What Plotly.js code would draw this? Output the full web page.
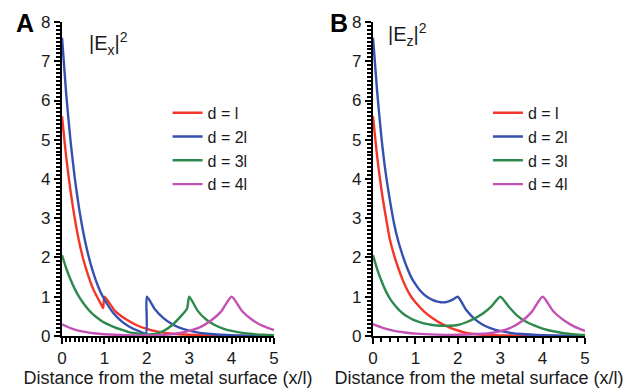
<!DOCTYPE html>
<html><head><meta charset="utf-8">
<script src="https://cdn.plot.ly/plotly-3.0.1.min.js"></script>
<style>html,body{margin:0;padding:0;background:#fff}#chart{width:642px;height:391px}</style>
</head><body><div id="chart"></div>
<script>
// Series names / legend labels
const seriesNames = ["d = l", "d = 2l", "d = 3l", "d = 4l"];
const seriesColors = ["#f4362a", "#3650b2", "#2e8a4c", "#c352b4"];
const xTickVals = [0, 1, 2, 3, 4, 5];
const yTickVals = [0, 1, 2, 3, 4, 5, 6, 7, 8];

// Panel A: |Ex|^2
const xA_d1 = [0,0.1,0.2,0.3,0.4,0.5,0.6,0.7,0.8,0.9,0.97,1.0,1.25,1.5,1.75,2.0,2.25,2.5,2.75,3.0,3.5,4.0,4.5,5.0];
const yA_d1 = [5.6,4.55,3.7,3.0,2.42,1.96,1.6,1.29,1.05,0.85,0.71,1.0,0.64,0.43,0.28,0.18,0.11,0.07,0.045,0.03,0.012,0.005,0.002,0.001];
const xA_d2 = [0,0.1,0.2,0.3,0.4,0.5,0.6,0.7,0.8,0.9,1.0,1.2,1.4,1.6,1.8,1.98,2.0,2.2,2.4,2.6,2.8,3.0,3.25,3.5,4.0,4.5,5.0];
const yA_d2 = [7.6,6.15,4.98,4.03,3.27,2.65,2.15,1.74,1.41,1.14,0.93,0.6,0.38,0.23,0.13,0.07,1.0,0.67,0.45,0.3,0.2,0.135,0.08,0.05,0.018,0.006,0.002];
const xA_d3 = [0,0.1,0.2,0.3,0.4,0.5,0.6,0.7,0.8,0.9,1.0,1.2,1.4,1.6,1.8,2.0,2.2,2.4,2.6,2.8,2.95,3.0,3.2,3.4,3.6,3.8,4.0,4.25,4.5,4.75,5.0];
const yA_d3 = [2.06,1.72,1.44,1.2,1.0,0.84,0.7,0.58,0.49,0.41,0.34,0.24,0.16,0.09,0.06,0.04,0.05,0.13,0.28,0.5,0.7,1.0,0.64,0.42,0.28,0.19,0.13,0.08,0.05,0.03,0.02];
const xA_d4 = [0,0.25,0.5,0.75,1.0,1.5,2.0,2.5,2.75,3.0,3.25,3.5,3.75,4.0,4.25,4.5,4.75,5.0];
const yA_d4 = [0.3,0.18,0.11,0.07,0.045,0.02,0.015,0.035,0.07,0.13,0.22,0.38,0.62,1.0,0.63,0.4,0.25,0.15];

// Panel B: |Ez|^2
const xB_d1 = [0,0.1,0.2,0.3,0.4,0.5,0.6,0.7,0.8,0.9,1.0,1.2,1.4,1.6,1.8,2.0,2.2,2.4,2.6,3.0,3.5,4.0,4.5,5.0];
const yB_d1 = [5.6,4.55,3.72,3.05,2.45,2.05,1.72,1.43,1.19,1.0,0.86,0.63,0.46,0.32,0.22,0.14,0.08,0.05,0.03,0.015,0.008,0.005,0.003,0.002];
const xB_d2 = [0,0.1,0.2,0.3,0.4,0.5,0.6,0.7,0.8,0.9,1.0,1.1,1.2,1.3,1.4,1.5,1.6,1.7,1.8,1.9,2.0,2.2,2.4,2.6,2.8,3.0,3.25,3.5,4.0,4.5,5.0];
const yB_d2 = [7.6,6.2,5.05,4.15,3.45,2.85,2.4,2.05,1.75,1.5,1.32,1.17,1.06,0.98,0.92,0.88,0.86,0.86,0.89,0.94,1.0,0.66,0.43,0.28,0.19,0.13,0.08,0.05,0.02,0.008,0.003];
const xB_d3 = [0,0.1,0.2,0.3,0.4,0.5,0.6,0.7,0.8,0.9,1.0,1.2,1.4,1.6,1.8,2.0,2.2,2.4,2.6,2.8,3.0,3.2,3.4,3.6,3.8,4.0,4.25,4.5,4.75,5.0];
const yB_d3 = [2.06,1.7,1.4,1.15,0.95,0.8,0.68,0.58,0.5,0.44,0.39,0.32,0.28,0.26,0.26,0.28,0.35,0.45,0.58,0.76,1.0,0.75,0.52,0.37,0.27,0.19,0.12,0.07,0.04,0.025];
const xB_d4 = [0,0.25,0.5,0.75,1.0,1.5,2.0,2.5,2.75,3.0,3.25,3.5,3.75,4.0,4.25,4.5,4.75,5.0];
const yB_d4 = [0.3,0.2,0.13,0.09,0.06,0.035,0.03,0.05,0.07,0.12,0.21,0.37,0.62,1.0,0.63,0.4,0.24,0.13];

const panelA = [[xA_d1,yA_d1],[xA_d2,yA_d2],[xA_d3,yA_d3],[xA_d4,yA_d4]];
const panelB = [[xB_d1,yB_d1],[xB_d2,yB_d2],[xB_d3,yB_d3],[xB_d4,yB_d4]];

const FONT = "Liberation Sans, Arial, sans-serif";
const traces = [];
panelA.forEach((s,i)=>traces.push({x:s[0],y:s[1],type:"scatter",mode:"lines",name:seriesNames[i],
  line:{color:seriesColors[i],width:2.4,shape:"spline",smoothing:0.6},xaxis:"x",yaxis:"y",legend:"legend"}));
panelB.forEach((s,i)=>traces.push({x:s[0],y:s[1],type:"scatter",mode:"lines",name:seriesNames[i],
  line:{color:seriesColors[i],width:2.4,shape:"spline",smoothing:0.6},xaxis:"x2",yaxis:"y2",legend:"legend2"}));

const xRange = [xTickVals[0], xTickVals[xTickVals.length-1]];
const yRange = [yTickVals[0], yTickVals[yTickVals.length-1]];

function xax(domain, minorStep){
  return {domain:domain, range:xRange, dtick:xTickVals[1]-xTickVals[0], ticks:"outside", ticklen:6, tickwidth:1.6,
    tickcolor:"#000", showline:true, linewidth:2.2, linecolor:"#000", showgrid:false, zeroline:false,
    tickfont:{family:FONT,size:17,color:"#1a1a1a"},
    minor:{dtick:minorStep, ticks:"outside", ticklen:4, tickcolor:"#000"},
    title:{text:"Distance from the metal surface (x/l)", font:{family:FONT,size:18,color:"#1a1a1a"}, standoff:2}};
}
function yax(){
  return {domain:[0.1407,0.9437], range:yRange, dtick:yTickVals[1]-yTickVals[0], ticks:"outside", ticklen:6, tickwidth:1.6,
    tickcolor:"#000", showline:true, linewidth:2.2, linecolor:"#000", showgrid:false, zeroline:false,
    tickfont:{family:FONT,size:17,color:"#1a1a1a"},
    minor:{dtick:0.1, ticks:"outside", ticklen:4, tickcolor:"#000"}};
}

const layout = {
  width:642, height:391, margin:{l:0,r:0,t:0,b:0}, showlegend:true,
  xaxis: Object.assign(xax([0.0966,0.4268],0.1),{anchor:"y"}),
  yaxis: Object.assign(yax(),{anchor:"x"}),
  xaxis2: Object.assign(xax([0.581,0.9112],0.2),{anchor:"y2"}),
  yaxis2: Object.assign(yax(),{anchor:"x2"}),
  legend: {x:0.261, y:0.755, xanchor:"left", yanchor:"top", font:{family:FONT,size:16,color:"#1a1a1a"}},
  legend2: {x:0.76, y:0.755, xanchor:"left", yanchor:"top", font:{family:FONT,size:16,color:"#1a1a1a"}},
  annotations:[
    {text:"<b>A</b>", xref:"paper", yref:"paper", x:14/642, y:1-23/391, xanchor:"left", yanchor:"middle", showarrow:false, font:{family:FONT,size:25,color:"#000"}},
    {text:"<b>B</b>", xref:"paper", yref:"paper", x:328/642, y:1-23/391, xanchor:"left", yanchor:"middle", showarrow:false, font:{family:FONT,size:25,color:"#000"}},
    {text:"|E<sub>x</sub>|<sup>2</sup>", xref:"paper", yref:"paper", x:87/642, y:1-44/391, xanchor:"left", yanchor:"middle", showarrow:false, font:{family:FONT,size:20,color:"#1a1a1a"}},
    {text:"|E<sub>z</sub>|<sup>2</sup>", xref:"paper", yref:"paper", x:386/642, y:1-35/391, xanchor:"left", yanchor:"middle", showarrow:false, font:{family:FONT,size:20,color:"#1a1a1a"}}
  ]
};
Plotly.newPlot("chart", traces, layout, {displayModeBar:false});
</script></body></html>
